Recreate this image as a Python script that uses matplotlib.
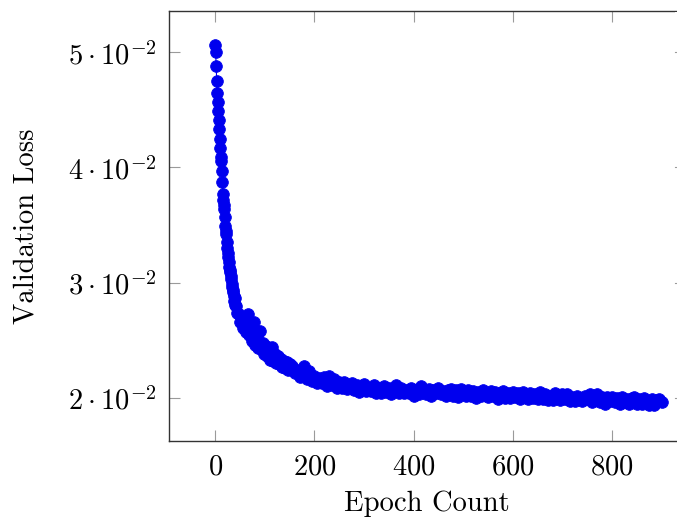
import matplotlib
matplotlib.use("Agg")
import matplotlib.pyplot as plt
from matplotlib.patches import Rectangle
from matplotlib.lines import Line2D

plt.rcParams['mathtext.fontset'] = 'cm'
plt.rcParams['font.family'] = ['cmr10', 'DejaVu Serif']
plt.rcParams['axes.unicode_minus'] = False

# ---- data ----
epochs_a = list(range(0, 41))
loss_a = [0.0506, 0.0500, 0.0488, 0.0475, 0.0465, 0.0457, 0.0449, 0.0441, 0.0433, 0.0425,
          0.0417, 0.0409, 0.0406, 0.0397, 0.0387, 0.0377, 0.0372, 0.0364, 0.0367, 0.0357,
          0.0349, 0.0342, 0.0345, 0.0335, 0.0330, 0.0326, 0.0322, 0.0318, 0.0314, 0.0311,
          0.0309, 0.0306, 0.0303, 0.0299, 0.0296, 0.0292, 0.0294, 0.0288, 0.0284, 0.0287,
          0.0281]

epochs_b = list(range(42, 151, 3))
loss_b = [0.0280, 0.0274, 0.0273, 0.0266, 0.0268, 0.0261, 0.0265, 0.0257, 0.0273, 0.0255,
          0.0262, 0.0249, 0.0266, 0.0246, 0.0253, 0.0243, 0.0258, 0.0242, 0.0248, 0.0238,
          0.0245, 0.0236, 0.0243, 0.0233, 0.0244, 0.0232, 0.0238, 0.0230, 0.0236, 0.0229,
          0.0234, 0.0227, 0.0232, 0.0226, 0.0231, 0.0224, 0.0229]

epochs_c = list(range(155, 901, 5))
loss_c = [0.0228, 0.0222, 0.0224, 0.0218, 0.0223, 0.0228, 0.0216, 0.0223, 0.0215, 0.0219,
          0.0213, 0.0217, 0.0213, 0.0218, 0.0210, 0.0219, 0.0211, 0.0216, 0.0209, 0.0214,
          0.0209, 0.0214, 0.0208, 0.0211, 0.0213, 0.0207, 0.0211, 0.0205, 0.0210, 0.0212,
          0.0206, 0.0209, 0.0206, 0.0211, 0.0204, 0.0209, 0.0204, 0.0210, 0.0205, 0.0209,
          0.0203, 0.0208, 0.0211, 0.0204, 0.0209, 0.0204, 0.0207, 0.0204, 0.0209, 0.0202,
          0.0207, 0.0203, 0.0210, 0.0206, 0.0203, 0.0208, 0.0202, 0.0207, 0.0204, 0.0209,
          0.0203, 0.0206, 0.0202, 0.0207, 0.0208, 0.0202, 0.0207, 0.0201, 0.0208, 0.0204,
          0.0202, 0.0207, 0.0202, 0.0206, 0.0200, 0.0205, 0.0202, 0.0207, 0.0203, 0.0201,
          0.0206, 0.0202, 0.0205, 0.0199, 0.0204, 0.0206, 0.0200, 0.0204, 0.0200, 0.0205,
          0.0201, 0.0204, 0.0199, 0.0205, 0.0201, 0.0199, 0.0204, 0.0200, 0.0203, 0.0199,
          0.0205, 0.0199, 0.0203, 0.0198, 0.0202, 0.0198, 0.0204, 0.0201, 0.0198, 0.0203,
          0.0199, 0.0203, 0.0197, 0.0201, 0.0197, 0.0202, 0.0200, 0.0197, 0.0202, 0.0199,
          0.0203, 0.0196, 0.0200, 0.0203, 0.0196, 0.0201, 0.0195, 0.0201, 0.0197, 0.0201,
          0.0196, 0.0200, 0.0195, 0.0201, 0.0196, 0.0199, 0.0195, 0.0200, 0.0201, 0.0195,
          0.0199, 0.0195, 0.0200, 0.0197, 0.0194, 0.0199, 0.0194, 0.0198, 0.0199, 0.0196]

epochs = epochs_a + epochs_b + epochs_c
loss = loss_a + loss_b + loss_c

xticks = [0, 200, 400, 600, 800]
xtick_labels = [r'$0$', r'$200$', r'$400$', r'$600$', r'$800$']
yticks = [0.02, 0.03, 0.04, 0.05]
ytick_labels = [r'$2\cdot10^{-2}$', r'$3\cdot10^{-2}$', r'$4\cdot10^{-2}$', r'$5\cdot10^{-2}$']

# ---- figure ----
W, H = 677, 524
fig = plt.figure(figsize=(6.775, 5.245), dpi=100)
x0, x1, y0, y1 = 169, 686, 11, 441
ax = fig.add_axes([x0/W, 1-y1/H, (x1-x0)/W, (y1-y0)/H])
ax.patch.set_visible(False)

blue = '#0000ee'
ax.plot(epochs, loss, color=blue, lw=0.8, marker='o', markersize=8.4,
        markerfacecolor=blue, markeredgecolor=blue, markeredgewidth=0.6, clip_on=False)

ax.set_xlim(-92.8, 950)
ax.set_ylim(0.016264, 0.053623)

ax.set_xticks(xticks)
ax.set_xticklabels(xtick_labels)
ax.set_yticks(yticks)
ax.set_yticklabels(ytick_labels)
ax.minorticks_off()

ax.tick_params(axis='both', which='major', direction='in', length=8, width=0.8,
               color='#9a9a9a', labelsize=20.6, top=True, right=False, pad=9)
for s in ax.spines.values():
    s.set_linewidth(1.0)
    s.set_color('#333333')
ax.spines['right'].set_visible(False)

# the right edge of the axes lies beyond the canvas: mask the edge column,
# then draw only the visible stubs of the right-hand inward ticks
fig.add_artist(Rectangle((674.6/W, 1-440/H), 3/W, 428/H, transform=fig.transFigure,
                         facecolor='white', edgecolor='none', zorder=10))
for yt in yticks:
    fig.add_artist(Line2D([1.0, 1.0 - 11/(x1-x0)], [yt, yt],
                          transform=ax.get_yaxis_transform(),
                          color='#9a9a9a', lw=0.8, clip_on=False, zorder=11))

fig.text(26/W, 1-226/H, 'Validation Loss', rotation=90, ha='center', va='center',
         fontsize=20.6)
fig.text(427/W, 1-503/H, 'Epoch Count', ha='center', va='center', fontsize=20.6)

fig.savefig('out.png', dpi=100)
